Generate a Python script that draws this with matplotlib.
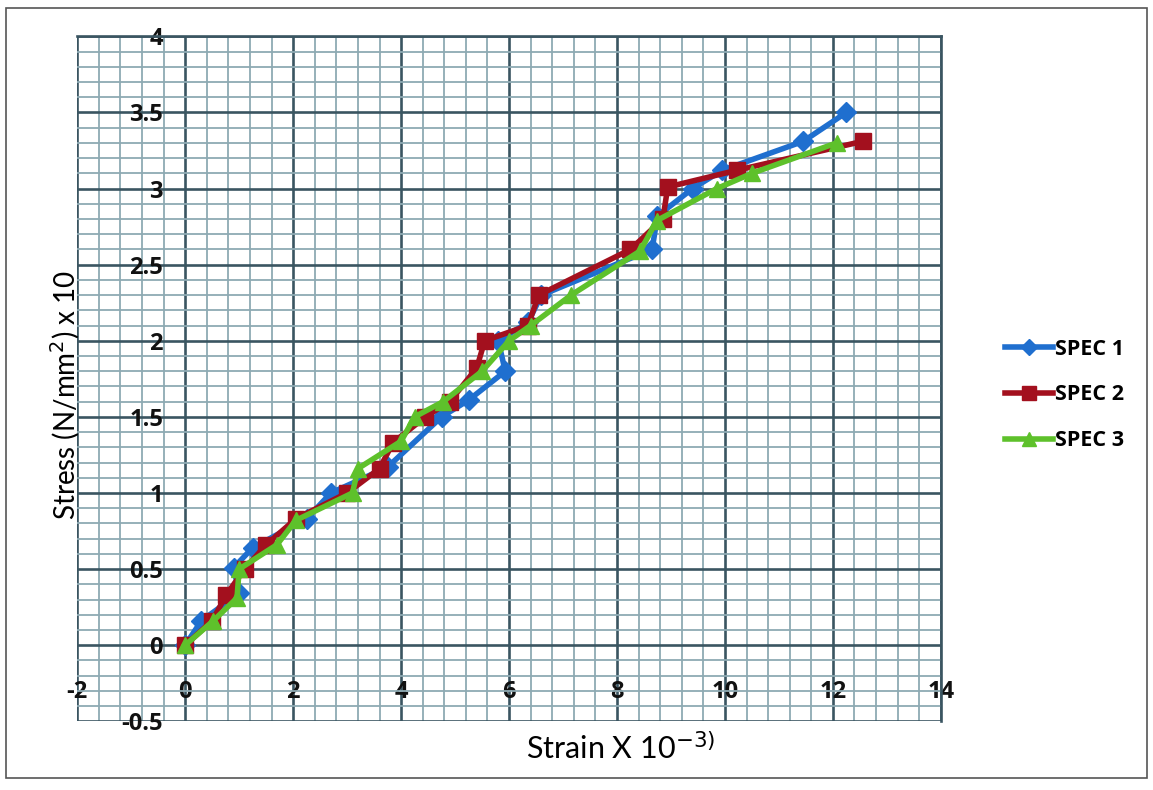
import matplotlib
matplotlib.use("Agg")
import matplotlib.pyplot as plt
import numpy as np
from matplotlib.ticker import MultipleLocator

plt.rcParams['font.family'] = ['Lato', 'DejaVu Sans']
plt.rcParams['axes.unicode_minus'] = False

# values
spec1_x = [0, 0.3, 1.0, 0.9, 1.25, 2.25, 2.7, 3.75, 4.75, 5.25, 5.93, 5.8, 6.35, 6.6, 8.65, 8.75, 9.4, 9.95, 11.45, 12.25]
spec1_y = [0, 0.16, 0.34, 0.51, 0.64, 0.83, 1.0, 1.17, 1.5, 1.61, 1.8, 2.0, 2.12, 2.3, 2.6, 2.82, 3.0, 3.12, 3.31, 3.5]

spec2_x = [0, 0.5, 0.76, 1.1, 1.5, 2.05, 3.0, 3.6, 3.85, 4.45, 4.9, 5.4, 5.55, 6.35, 6.55, 8.25, 8.85, 8.94, 10.22, 12.55]
spec2_y = [0, 0.16, 0.33, 0.5, 0.66, 0.83, 1.0, 1.16, 1.33, 1.5, 1.6, 1.82, 2.0, 2.1, 2.3, 2.6, 2.8, 3.01, 3.12, 3.31]

spec3_x = [0, 0.52, 0.96, 1.0, 1.7, 2.05, 3.1, 3.2, 4.0, 4.25, 4.78, 5.5, 6.0, 6.4, 7.15, 8.43, 8.74, 9.85, 10.5, 12.07]
spec3_y = [0, 0.16, 0.31, 0.5, 0.66, 0.82, 1.0, 1.16, 1.34, 1.5, 1.6, 1.8, 2.0, 2.1, 2.3, 2.59, 2.79, 3.0, 3.1, 3.3]

x_ticks = [-2, 0, 2, 4, 6, 8, 10, 12, 14]
y_ticks = [-0.5, 0, 0.5, 1, 1.5, 2, 2.5, 3, 3.5, 4]
y_tick_labels = ['-0.5', '0', '0.5', '1', '1.5', '2', '2.5', '3', '3.5', '4']

fig = plt.figure(figsize=(11.53, 7.9), dpi=100)
ax = fig.add_axes([0.067, 0.087, 0.749, 0.867])

ax.set_xlim(-2, 14)
ax.set_ylim(-0.5, 4)
ax.set_xticks(x_ticks)
ax.set_yticks(y_ticks)
ax.set_yticklabels(y_tick_labels)
ax.xaxis.set_minor_locator(MultipleLocator(0.4))
ax.yaxis.set_minor_locator(MultipleLocator(0.1))

ax.grid(True, which='major', color='#3a5561', linewidth=1.9)
ax.grid(True, which='minor', color='#8eaab3', linewidth=1.3)
ax.set_axisbelow(True)

ax.spines['left'].set_position(('data', 0))
ax.spines['bottom'].set_position(('data', 0))
ax.spines['left'].set_visible(False)
ax.spines['bottom'].set_visible(False)
ax.spines['top'].set_color('#3a5561')
ax.spines['right'].set_color('#3a5561')
ax.spines['top'].set_linewidth(1.9)
ax.spines['right'].set_linewidth(1.9)

ax.tick_params(axis='both', which='both', length=0)
ax.tick_params(axis='x', pad=25)
ax.tick_params(axis='y', pad=16)
for lbl in ax.get_xticklabels() + ax.get_yticklabels():
    lbl.set_family('Open Sans')
    lbl.set_fontweight('bold')
    lbl.set_fontsize(17)
    lbl.set_color('#111111')

ax.plot(spec1_x, spec1_y, color='#1f6fcf', linewidth=4, marker='D', markersize=10, label='SPEC 1', zorder=3)
ax.plot(spec2_x, spec2_y, color='#a3101e', linewidth=4, marker='s', markersize=12, label='SPEC 2', zorder=4)
ax.plot(spec3_x, spec3_y, color='#5ec12b', linewidth=4, marker='^', markersize=12, label='SPEC 3', zorder=5)

fig.text(0.057, 0.5, 'Stress (N/mm$^{2}$) x 10', rotation=90, ha='center', va='center', fontsize=20)
fig.text(0.538, 0.053, 'Strain X 10$^{-3)}$', ha='center', va='center', fontsize=22)

fig.legend(loc='center left', bbox_to_anchor=(0.855, 0.50), frameon=False,
           prop={'family': 'Open Sans', 'size': 15.5, 'weight': 'bold'}, handlelength=2.2, handletextpad=0.1,
           labelspacing=1.15, markerscale=0.8)

fig.patches.append(plt.Rectangle((0.005, 0.015), 0.99, 0.975, transform=fig.transFigure,
                                 fill=False, edgecolor='#555555', linewidth=1.2))

fig.savefig('out.png', dpi=100)
